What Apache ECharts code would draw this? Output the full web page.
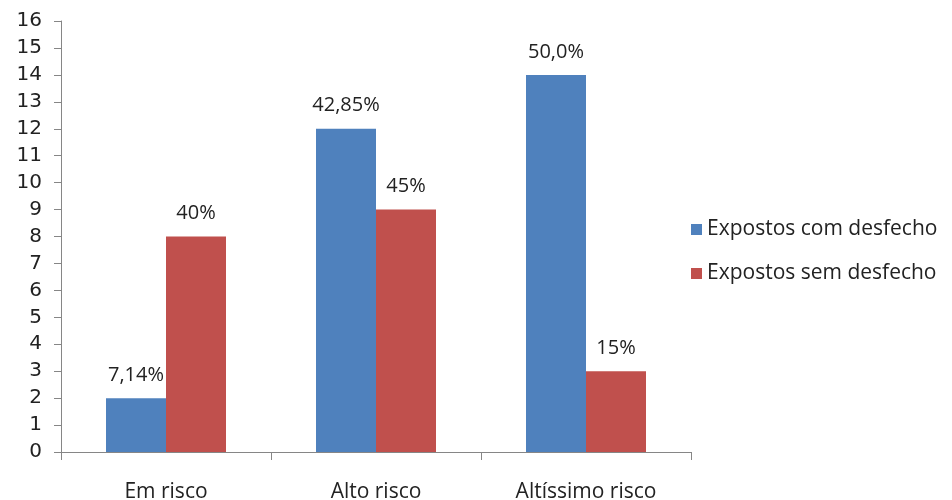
<!DOCTYPE html>
<html>
<head>
<meta charset="utf-8">
<script src="https://cdn.jsdelivr.net/npm/echarts@6/dist/echarts.min.js"></script>
<style>html,body{margin:0;padding:0;background:#fff;}#chart{width:952px;height:500px;}</style>
</head>
<body>
<div id="chart"></div>
<script>
// Risk groups and counts per outcome group
var categories = ['Em risco', 'Alto risco', 'Altíssimo risco'];
var comDesfecho = [2, 12, 14];
var semDesfecho = [8, 9, 3];
var comLabels = ['7,14%', '42,85%', '50,0%'];
var semLabels = ['40%', '45%', '15%'];
var yTicks = { min: 0, max: 16, interval: 1 };

var chart = echarts.init(document.getElementById('chart'));
var labelFont = '"Open Sans", "Noto Sans", sans-serif';

function barLabel(texts) {
  return {
    show: true,
    position: 'top',
    distance: 13,
    color: '#222',
    fontSize: 20,
    fontFamily: labelFont,
    formatter: function (p) { return texts[p.dataIndex]; }
  };
}

chart.setOption({
  animation: false,
  backgroundColor: '#fff',
  grid: { left: 61, right: 261, top: 21, bottom: 48, outerBoundsMode: 'none' },
  legend: {
    orient: 'vertical',
    left: 686,
    top: 214,
    itemWidth: 11,
    itemHeight: 11,
    itemGap: 23,
    icon: 'rect',
    textStyle: { fontSize: 21, color: '#222', fontFamily: labelFont }
  },
  xAxis: {
    type: 'category',
    data: categories,
    axisLine: { lineStyle: { color: '#868686' } },
    axisTick: { show: true, length: 8, lineStyle: { color: '#868686' } },
    axisLabel: { color: '#222', fontSize: 21, fontFamily: labelFont, margin: 30 }
  },
  yAxis: {
    type: 'value',
    min: yTicks.min,
    max: yTicks.max,
    interval: yTicks.interval,
    splitLine: { show: false },
    axisLine: { show: true, lineStyle: { color: '#868686' } },
    axisTick: { show: true, length: 7, lineStyle: { color: '#868686' } },
    axisLabel: { color: '#222', fontSize: 20, fontFamily: '"DejaVu Sans", sans-serif', margin: 19 }
  },
  series: [
    {
      name: 'Expostos com desfecho',
      type: 'bar',
      data: comDesfecho,
      barWidth: 60,
      barGap: '0%',
      itemStyle: { color: '#4F81BD' },
      label: barLabel(comLabels)
    },
    {
      name: 'Expostos sem desfecho',
      type: 'bar',
      data: semDesfecho,
      barWidth: 60,
      barGap: '0%',
      itemStyle: { color: '#C0504D' },
      label: barLabel(semLabels)
    }
  ]
});
</script>
</body>
</html>
